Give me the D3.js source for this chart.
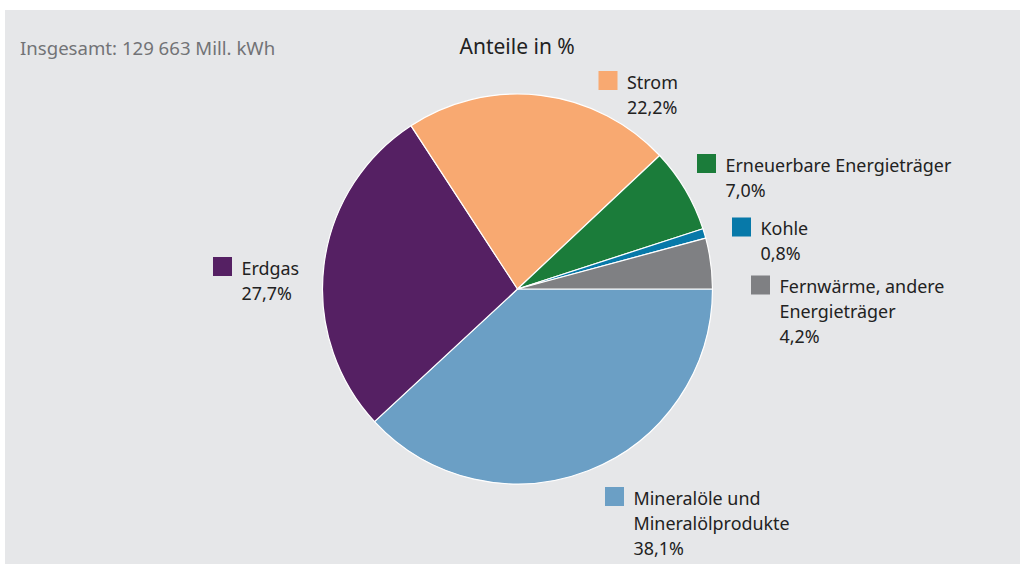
<!DOCTYPE html>
<html>
<head>
<meta charset="utf-8">
<script src="https://cdn.jsdelivr.net/npm/d3@7"></script>
<style>
  html, body { margin: 0; padding: 0; background: #ffffff; }
  svg { display: block; }
  text { font-family: "Noto Sans", "Open Sans", sans-serif; }
</style>
</head>
<body>
<svg id="chart" width="1020" height="567"></svg>
<script>
// Endenergieverbrauch nach Energieträgern, Anteile in %
const categories = [
  "Mineralöle und Mineralölprodukte",
  "Erdgas",
  "Strom",
  "Erneuerbare Energieträger",
  "Kohle",
  "Fernwärme, andere Energieträger"
];
const shares = [38.1, 27.7, 22.2, 7.0, 0.8, 4.2];
const shareLabels = ["38,1%", "27,7%", "22,2%", "7,0%", "0,8%", "4,2%"];
// label lines as printed next to each swatch
const labelLines = [
  ["Mineralöle und", "Mineralölprodukte"],
  ["Erdgas"],
  ["Strom"],
  ["Erneuerbare Energieträger"],
  ["Kohle"],
  ["Fernwärme, andere", "Energieträger"]
];
const colors = ["#6b9fc5", "#552063", "#f8a971", "#1b7c3a", "#0779a9", "#7f8083"];
const totalText = "Insgesamt: 129 663 Mill. kWh";
const titleText = "Anteile in %";

// legend anchor (swatch top-left) for each slice
const legendPos = [
  [605, 487], [213, 257], [598.5, 71], [697, 154], [732, 217.5], [751, 275.5]
];

const svg = d3.select("#chart");

svg.append("rect")
  .attr("x", 5).attr("y", 10)
  .attr("width", 1015).attr("height", 554)
  .attr("fill", "#e6e7e9");

svg.append("text")
  .attr("x", 20).attr("y", 54.5)
  .attr("font-size", 18.6)
  .attr("fill", "#727376")
  .text(totalText);

svg.append("text")
  .attr("x", 459.5).attr("y", 53.5)
  .attr("font-size", 21)
  .attr("fill", "#222")
  .text(titleText);

const cx = 517.5, cy = 289, r = 195;

const pie = d3.pie()
  .sort(null)
  .value(d => d)
  .startAngle(Math.PI / 2)
  .endAngle(Math.PI / 2 + 2 * Math.PI);

const arc = d3.arc().innerRadius(0).outerRadius(r);

const g = svg.append("g").attr("transform", `translate(${cx},${cy})`);
g.selectAll("path")
  .data(pie(shares))
  .join("path")
  .attr("d", arc)
  .attr("fill", (d, i) => colors[i])
  .attr("stroke", "#ffffff")
  .attr("stroke-width", 1.2)
  .attr("stroke-linejoin", "round");

// legend labels
const lg = svg.append("g");
categories.forEach((c, i) => {
  const [x, y] = legendPos[i];
  const item = lg.append("g").attr("transform", `translate(${x},${y})`);
  item.append("rect")
    .attr("width", 19).attr("height", 19)
    .attr("fill", colors[i]);
  const lines = labelLines[i].concat([shareLabels[i]]);
  item.selectAll("text")
    .data(lines)
    .join("text")
    .attr("x", 28.5)
    .attr("y", (d, k) => 17.5 + k * 25.2)
    .attr("font-size", 17.9)
    .attr("fill", "#222")
    .text(d => d);
});
</script>
</body>
</html>
